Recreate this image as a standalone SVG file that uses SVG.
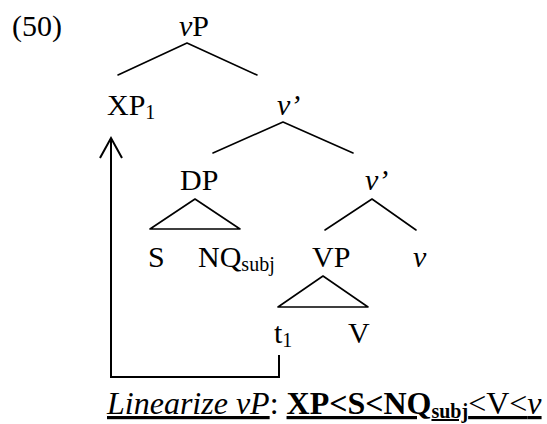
<svg xmlns="http://www.w3.org/2000/svg" width="547" height="424" viewBox="0 0 547 424">
<style>
text{font-family:"Liberation Serif","Times New Roman",serif;font-size:30px;fill:#000}
.i{font-style:italic}
.sub{font-size:20px}
.edge{stroke:#000;stroke-width:1.6;fill:none;stroke-linecap:round;stroke-linejoin:round}
.mv{stroke:#000;stroke-width:2;fill:none}
.bot{font-size:32px}
.u{text-decoration:underline}
.b{font-weight:bold}
</style>
<rect width="547" height="424" fill="#fff"/>
<text x="12" y="36">(50)</text>
<g id="vP"><text x="179" y="36"><tspan class="i">v</tspan>P</text></g>
<g id="XP1"><text x="107" y="115">XP<tspan class="sub" dy="4">1</tspan></text></g>
<g id="vbar1"><text x="277" y="115" class="i">v’</text></g>
<g id="DP"><text x="180" y="190">DP</text></g>
<g id="vbar2"><text x="365" y="190" class="i">v’</text></g>
<g id="S"><text x="148" y="267">S</text></g>
<g id="NQsubj"><text x="198" y="267">NQ<tspan class="sub" dy="4">subj</tspan></text></g>
<g id="VP"><text x="312" y="267">VP</text></g>
<g id="v"><text x="413" y="267" class="i">v</text></g>
<g id="t1"><text x="274" y="343">t<tspan class="sub" dy="4">1</tspan></text></g>
<g id="V"><text x="348" y="343">V</text></g>
<g id="connectors">
<polyline class="edge" points="118,75 187,43 257,75"/>
<polyline class="edge" points="213,153 283,122 353,153"/>
<polygon class="edge" points="195,199 150,229 240,229"/>
<polyline class="edge" points="325,230 372,199 416,230"/>
<polygon class="edge" points="323,276 278,307 368,307"/>
<polyline class="mv" points="279,355 279,377 111,377 111,138"/>
<polyline class="mv" points="100,158 111,138 122,158"/>
</g>
<g id="linearize"><text x="107" y="414" class="bot"><tspan class="i u">Linearize vP</tspan>: <tspan class="b u">XP&lt;S&lt;NQ</tspan><tspan class="b u sub" dy="4">subj</tspan><tspan class="u" dy="-4">&lt;V&lt;</tspan><tspan class="i u">v</tspan></text></g>
</svg>
